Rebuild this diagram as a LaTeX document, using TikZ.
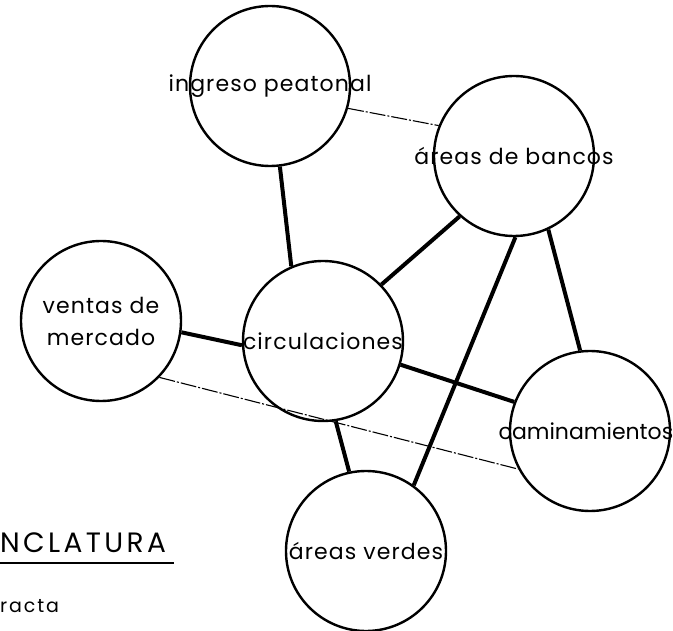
\documentclass[tikz,border=0pt]{standalone}
\usepackage{fontspec}
\setmainfont{Poppins}
\usetikzlibrary{positioning}
\tikzset{
  zona/.style={
    circle,
    draw=black,
    line width=2.4pt,
    minimum size=160pt,
    inner sep=0pt
  },
  rotulo/.style={
    align=center,
    inner sep=0pt,
    font=\fontsize{22}{32}\selectfont\addfontfeature{LetterSpace=5}
  },
  enlace/.style={
    line width=4pt
  },
  tenue/.style={
    line width=1.1pt,
    dash pattern=on 16pt off 2pt on 2pt off 2pt
  }
}
\begin{document}
\begin{tikzpicture}[x=1pt,y=-1pt]
\useasboundingbox (0,0) rectangle (673,631);
\node[zona,label={[rotulo]center:ingreso peatonal}] (ing) at (270,86) {};
\node[zona,label={[rotulo]center:áreas de bancos}] (ban) at (514,156) {};
\node[zona,label={[rotulo]center:ventas de\\mercado}] (ven) at (101,321) {};
\node[zona,label={[rotulo]center:circulaciones}] (cir) at (323,341) {};
\node[zona,label={[rotulo,xshift=-4pt,font=\fontsize{22}{32}\selectfont]center:caminamientos}] (cam) at (590,431) {};
\node[zona,label={[rotulo]center:áreas verdes}] (ver) at (366,551) {};
% relaciones directas
\draw[enlace] (ing.-83) -- (cir.113);
\draw[enlace] (ban.228) -- (cir.44);
\draw[enlace] (ban.-89) -- (ver.54);
\draw[enlace] (ban.-65) -- (cam.97);
\draw[enlace] (cir.-17) -- (cam.159);
\draw[enlace] (cir.-81) -- (ver.102);
\draw[enlace] (ven.-8) -- (cir.183);
% relaciones indirectas
\draw[tenue] (ing.-16) -- (ban.158);
\draw[tenue] (ven.-44) -- (cam.208);
% nomenclatura
\node[anchor=base west,inner sep=0pt,font=\fontsize{28}{30}\selectfont\addfontfeature{LetterSpace=12}] (nom) at (0,552) {NCLATURA};
\draw[line width=1.2pt] ([yshift=-11pt]nom.base west) -- ([yshift=-11pt,xshift=8pt]nom.base east);
\node[anchor=base west,inner sep=0pt,font=\fontsize{19}{20}\selectfont\addfontfeature{LetterSpace=10}] (dir) at (0,612) {racta};
\end{tikzpicture}
\end{document}
